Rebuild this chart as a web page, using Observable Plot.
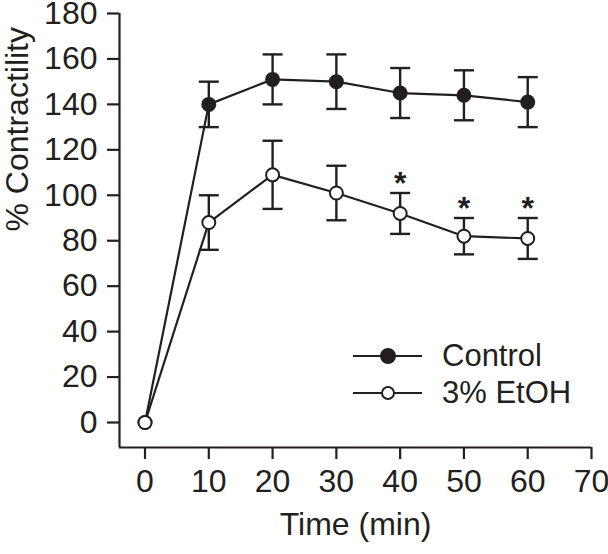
<!DOCTYPE html>
<html><head><meta charset="utf-8">
<script src="https://cdn.jsdelivr.net/npm/d3@7"></script>
<script src="https://cdn.jsdelivr.net/npm/@observablehq/plot@0.6"></script>
<style>
body{margin:0;background:#fff;}
#wrap{position:relative;width:608px;height:554px;font-family:"Liberation Sans",Arial,sans-serif;color:#231f20;}
#legend{position:absolute;left:353px;top:337px;}
.row{display:flex;align-items:center;height:37px;font-size:31px;line-height:37px;}
.row svg{display:block;margin-right:20px;}
</style></head><body><div id="wrap"><div id="legend"></div></div>
<script>
// ---- data ----
const time = [0, 10, 20, 30, 40, 50, 60];
const controlMean = [0, 140, 151, 150, 145, 144, 141];
const controlErr  = [0, 10, 11, 12, 11, 11, 11];
const etohMean    = [0, 88, 109, 101, 92, 82, 81];
const etohErr     = [0, 12, 15, 12, 9, 8, 9];
const significantTimes = [40, 50, 60];
const seriesNames = ["Control", "3% EtOH"];
const xTicks = [0, 10, 20, 30, 40, 50, 60, 70];
const yTicks = [0, 20, 40, 60, 80, 100, 120, 140, 160, 180];
const xDomain = [-4, 70];
const yDomain = [-11, 180];
const xLabel = "Time (min)";
const yLabel = "% Contractility";

// ---- build ----
const ink = "#231f20";
const font = '"Liberation Sans", Arial, sans-serif';
const capSymbol = {draw(ctx, size) {const w = Math.sqrt(size / Math.PI); ctx.moveTo(-w, 0); ctx.lineTo(w, 0);}};

const series = [
  {name: seriesNames[0], means: controlMean, errs: controlErr, fill: ink},
  {name: seriesNames[1], means: etohMean, errs: etohErr, fill: "white"}
].map(s => ({...s, rows: time.map((t, i) => ({t, m: s.means[i], lo: s.means[i] - s.errs[i], hi: s.means[i] + s.errs[i], e: s.errs[i]}))}));

const etohRows = series[1].rows;
const stars = significantTimes.map(t => etohRows.find(r => r.t === t));

const marks = [
  Plot.ruleX([xDomain[0]], {stroke: ink, strokeWidth: 2.2}),
  Plot.ruleY([yDomain[0]], {stroke: ink, strokeWidth: 2.2}),
  Plot.axisX({ticks: xTicks, tickSize: 12, tickPadding: 10, fontSize: 32, label: null, strokeWidth: 2.2, stroke: ink}),
  Plot.axisY({ticks: yTicks, tickSize: 12, tickPadding: 10, fontSize: 32, label: null, strokeWidth: 2.2, stroke: ink}),
  Plot.text([xLabel], {frameAnchor: "bottom", dy: 87, text: d => d, fontSize: 32, fill: ink}),
  Plot.text([yLabel], {frameAnchor: "left", dx: -102, dy: 1, rotate: -90, text: d => d, fontSize: 32, fill: ink})
];
for (const s of series) marks.push(Plot.line(s.rows, {x: "t", y: "m", stroke: ink, strokeWidth: 2.2}));
for (const s of series) {
  const eb = s.rows.filter(r => r.e > 0);
  marks.push(Plot.ruleX(eb, {x: "t", y1: "lo", y2: "hi", stroke: ink, strokeWidth: 2.4}));
  marks.push(Plot.dot(eb, {x: "t", y: "lo", symbol: capSymbol, r: 10, stroke: ink, strokeWidth: 2.4, fill: "none"}));
  marks.push(Plot.dot(eb, {x: "t", y: "hi", symbol: capSymbol, r: 10, stroke: ink, strokeWidth: 2.4, fill: "none"}));
}
for (const s of series) marks.push(Plot.dot(s.rows, {x: "t", y: "m", r: 6.5, fill: s.fill, stroke: ink, strokeWidth: 2}));
marks.push(Plot.text(stars, {x: "t", y: "hi", text: () => "*", dy: -9, fontSize: 32, fontWeight: "bold", fill: ink}));

const chart = Plot.plot({
  width: 608, height: 554,
  marginLeft: 119, marginRight: 17, marginTop: 13, marginBottom: 107,
  x: {domain: xDomain},
  y: {domain: yDomain},
  style: {fontFamily: font, color: ink, background: "white", overflow: "visible"},
  marks
});
document.getElementById("wrap").prepend(chart);

// legend overlay
const legend = document.getElementById("legend");
series.forEach((s, i) => {
  const row = document.createElement("div");
  row.className = "row";
  const r = i === 0 ? 7 : 6;
  row.innerHTML = `<svg width="69" height="20"><line x1="0" x2="69" y1="10" y2="10" stroke="${ink}" stroke-width="2.2"/><circle cx="35" cy="10" r="${r}" fill="${s.fill}" stroke="${ink}" stroke-width="2"/></svg><span>${s.name}</span>`;
  legend.appendChild(row);
});
</script>
</body></html>
